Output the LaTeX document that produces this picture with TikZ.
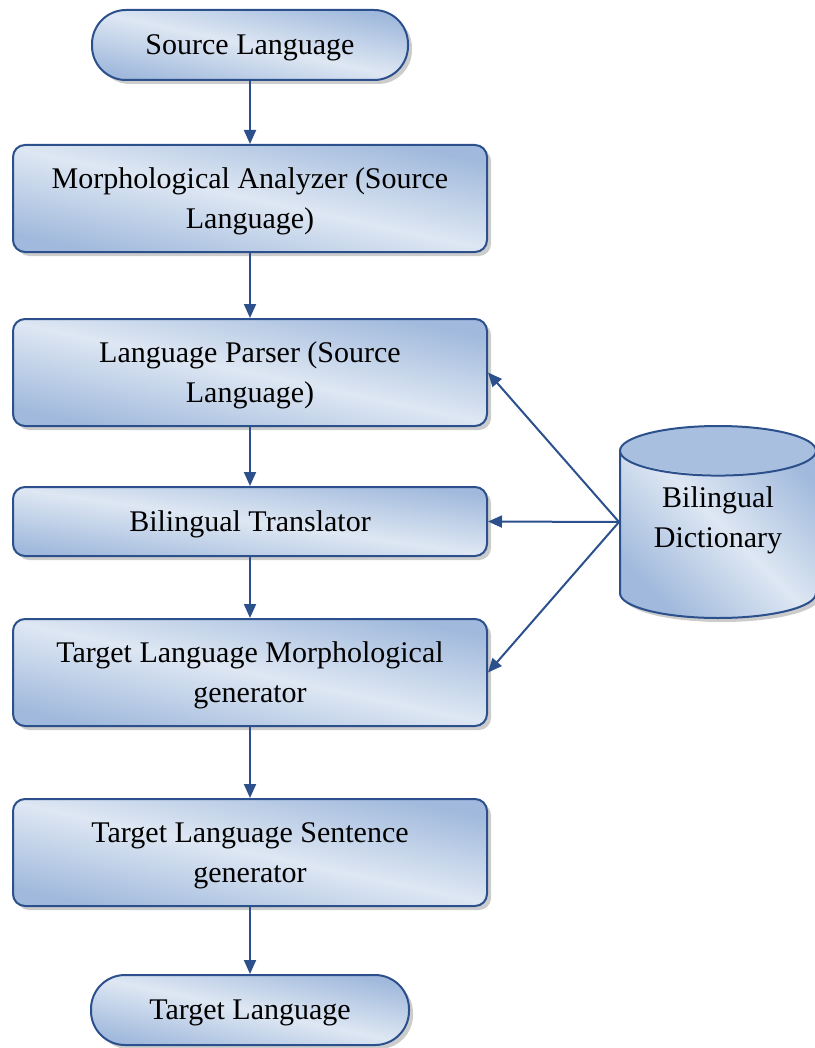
\documentclass[tikz,border=0pt]{standalone}
\usepackage{fontspec}
\setmainfont{Liberation Serif}
\usepackage{tikz}
\usetikzlibrary{shapes.geometric, shadows, arrows.meta, positioning}
\definecolor{edgeblue}{RGB}{44,80,140}
\definecolor{fillpale}{RGB}{222,231,243}
\definecolor{filldeep}{RGB}{160,185,220}
\definecolor{endfill}{RGB}{168,191,223}

\begin{document}
\begin{tikzpicture}[x=0.5pt, y=-0.5pt, >={Triangle[width=6pt,length=7pt]},
	blockshade/.style={draw=edgeblue, line width=1pt, top color=filldeep, bottom color=filldeep, middle color=fillpale, shading angle=-12,
		drop shadow={shadow xshift=2pt, shadow yshift=-2pt, fill=black!40}, font=\fontsize{15}{20}\selectfont, align=center, text depth=0pt},
	block/.style={blockshade, rectangle, rounded corners=6pt, minimum width=237pt, minimum height=53.5pt},
	terminal/.style={blockshade, rectangle, rounded corners=17pt, minimum width=158pt, minimum height=35pt},
	flow/.style={->, draw=edgeblue, line width=1pt}]
	\useasboundingbox (0,0) rectangle (814,1048);

	% --- Colonne principale ---
	\node[terminal] (src) at (250,45) {Source Language};
	\node[block, below=31.5pt of src] (morph) {Morphological Analyzer (Source\\Language)};
	\node[block, below=32.5pt of morph] (parser) {Language Parser (Source\\Language)};
	\node[block, minimum height=34.5pt, shading angle=-8, below=29.5pt of parser] (trans) {Bilingual Translator};
	\node[block, below=30.5pt of trans] (tmorph) {Target Language Morphological\\generator};
	\node[block, below=35.5pt of tmorph] (tsent) {Target Language Sentence\\generator};
	\node[terminal, minimum width=159pt, below=33.5pt of tsent] (tgt) {Target Language};

	% --- Dictionnaire (a droite) ---
	\node[blockshade, shading angle=-45, cylinder, shape border rotate=90, aspect=0.35, minimum width=98pt, minimum height=96pt, anchor=shape center, text depth=22pt,
		path picture={\fill[endfill] ([yshift=-12pt]path picture bounding box.north) ellipse (49pt and 12pt);}] (dict) at (718,522) {Bilingual\\Dictionary};
	\coordinate (hub) at (dict.shape center -| dict.west);

	% --- Fleches verticales ---
	\foreach \a/\b in {src/morph, morph/parser, parser/trans, trans/tmorph, tmorph/tsent, tsent/tgt} {
		\draw[flow] (\a.south) -- (\b.north);
	}

	% --- Fleches depuis le dictionnaire ---
	\foreach \b in {parser, trans, tmorph} {
		\draw[flow] (hub) -- (\b.east);
	}
\end{tikzpicture}
\end{document}
